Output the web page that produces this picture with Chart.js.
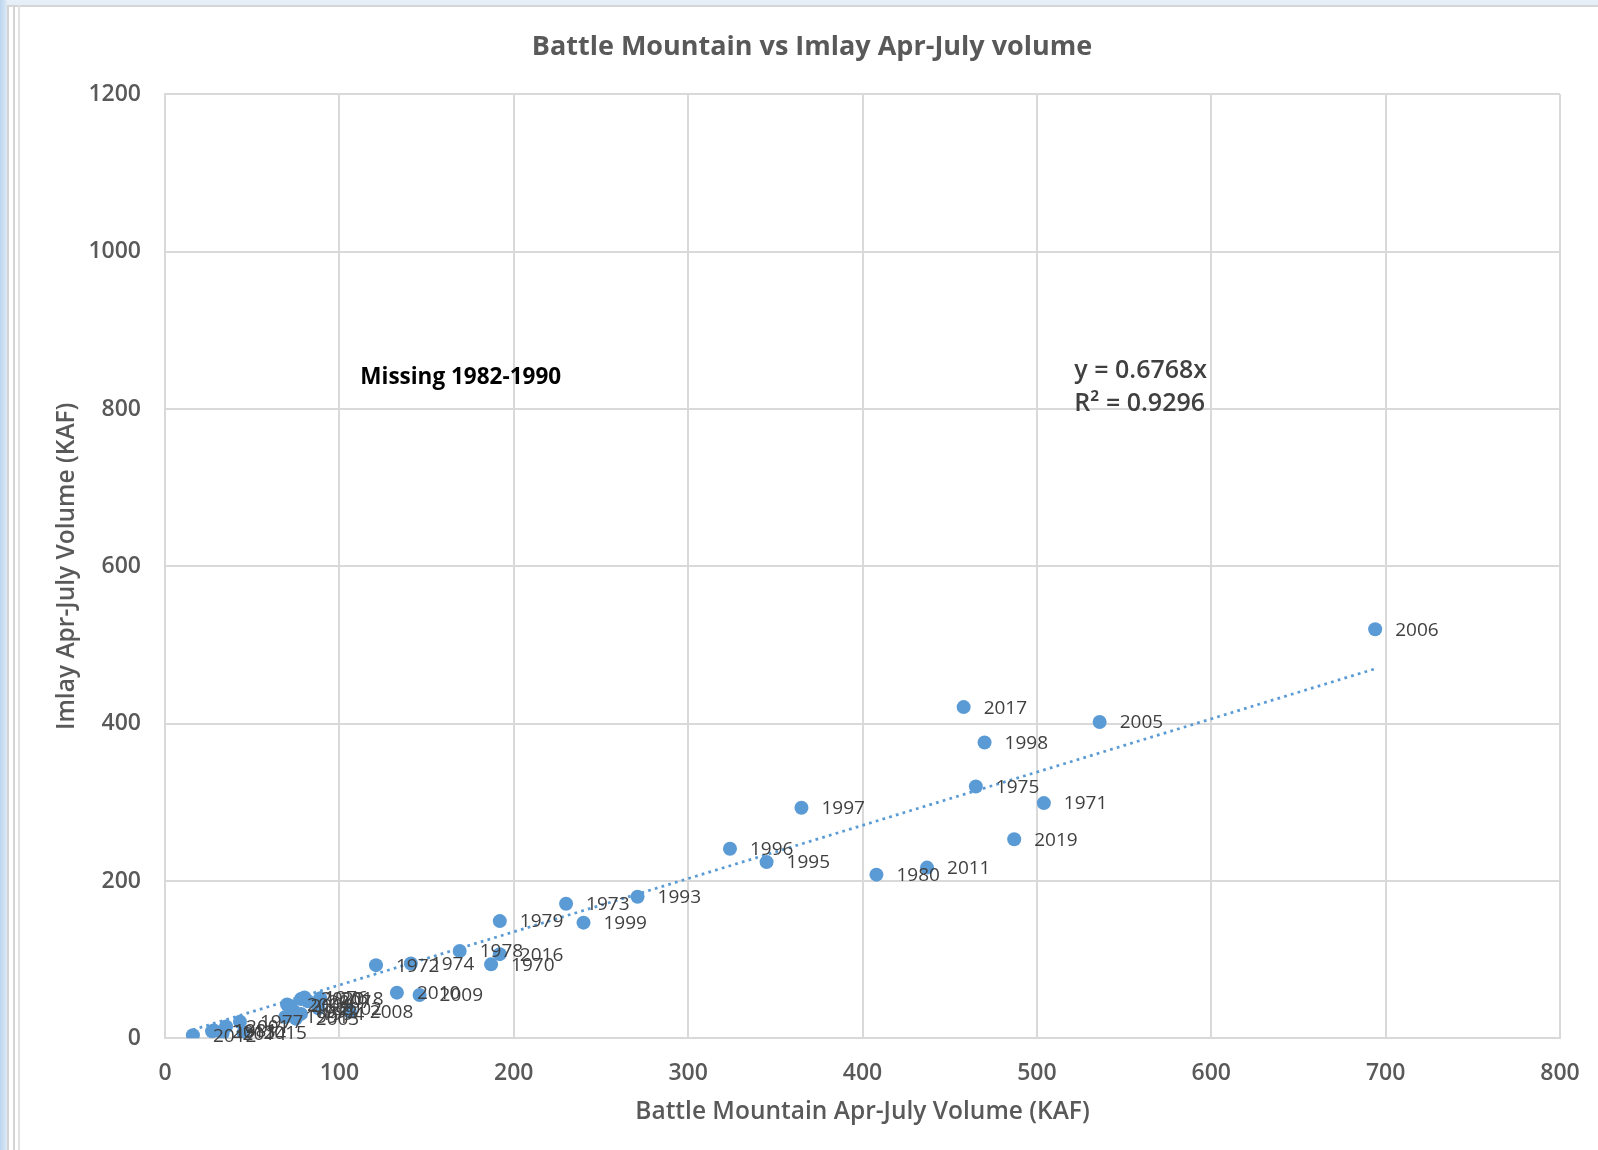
<!DOCTYPE html>
<html>
<head>
<meta charset="utf-8">
<title>Battle Mountain vs Imlay Apr-July volume</title>
<script src="https://cdn.jsdelivr.net/npm/chart.js@4.4.1/dist/chart.umd.min.js"></script>
<style>
  html, body { margin: 0; padding: 0; background: #ffffff; }
  body { width: 1598px; height: 1150px; position: relative; overflow: hidden; }
  .frame-top { position: absolute; left: 0; top: 0; width: 1598px; height: 5px; background: #e6eef7; }
  .frame-top-line { position: absolute; left: 7px; top: 5px; width: 1591px; height: 2px; background: #d6d6d6; }
  .frame-left { position: absolute; left: 0; top: 0; width: 7px; height: 1150px;
                background: linear-gradient(to right, #bcd5ee, #dde9f6); }
  .frame-line { position: absolute; top: 5px; width: 2px; height: 1145px; background: #d4d4d4; }
  #chart { position: absolute; left: 0; top: 0; }
</style>
</head>
<body>
<div class="frame-top"></div>
<div class="frame-left"></div>
<div class="frame-top-line"></div>
<div class="frame-line" style="left:7px"></div>
<div class="frame-line" style="left:13px"></div>
<div class="frame-line" style="left:18px; background:#e0e0e0"></div>
<canvas id="chart" width="1598" height="1150"></canvas>
<script>
// Water years (1982-1990 have no record)
const years = [
  1970, 1971, 1972, 1973, 1974, 1975, 1976, 1977, 1978, 1979, 1980, 1981,
  1991, 1992, 1993, 1994, 1995, 1996, 1997, 1998, 1999, 2000,
  2001, 2002, 2003, 2004, 2005, 2006, 2007, 2008, 2009, 2010,
  2011, 2012, 2013, 2014, 2015, 2016, 2017, 2018, 2019, 2020
];
// Battle Mountain Apr-July volume (KAF)
const battleMountain = [
  187, 504, 121, 230, 141, 465, 80, 43, 169, 192, 408, 28,
  69, 74, 271, 78, 345, 324, 365, 470, 240, 72,
  35, 88, 75, 70, 536, 694, 82, 106, 146, 133,
  437, 16, 27, 33, 45, 192, 458, 89, 487, 78
];
// Imlay Apr-July volume (KAF)
const imlay = [
  94, 299, 93, 171, 95, 320, 52, 21, 111, 149, 208, 10,
  27, 34, 180, 31, 224, 241, 293, 376, 147, 41,
  15, 38, 25, 43, 402, 520, 47, 34, 55, 58,
  217, 4, 9, 6, 7, 107, 421, 51, 253, 50
];
// Linear fit through the origin
const trendSlope = 0.6768;
const trendR2 = 0.9296;
const xTicks = [0, 100, 200, 300, 400, 500, 600, 700, 800];
const yTicks = [0, 200, 400, 600, 800, 1000, 1200];

const points = battleMountain.map((x, i) => ({ x: x, y: imlay[i] }));
const xMin = Math.min(...battleMountain);
const xMax = Math.max(...battleMountain);
const trend = [
  { x: xMin, y: trendSlope * xMin },
  { x: xMax, y: trendSlope * xMax }
];

const BLUE = '#5b9bd5';
const GRID = '#d9d9d9';
const AXIS_TEXT = '#595959';
const LABEL_TEXT = '#404040';
const FONT = "'Open Sans', 'DejaVu Sans', sans-serif";

// Year labels to the right of each point
const yearLabels = {
  id: 'yearLabels',
  afterDatasetsDraw(chart) {
    const ctx = chart.ctx;
    const meta = chart.getDatasetMeta(0);
    ctx.save();
    ctx.font = `500 19px ${FONT}`;
    ctx.fillStyle = LABEL_TEXT;
    ctx.textAlign = 'left';
    ctx.textBaseline = 'middle';
    meta.data.forEach((pt, i) => {
      ctx.fillText(String(years[i]), pt.x + 20, pt.y + 1);
    });
    ctx.restore();
  }
};

// Free text notes placed in data coordinates
const notes = {
  id: 'notes',
  afterDraw(chart) {
    const ctx = chart.ctx;
    const sx = chart.scales.x, sy = chart.scales.y;
    ctx.save();
    ctx.textAlign = 'left';
    ctx.textBaseline = 'middle';
    ctx.fillStyle = '#000000';
    ctx.font = `700 22.5px ${FONT}`;
    ctx.fillText('Missing 1982-1990', sx.getPixelForValue(112), sy.getPixelForValue(839.5));
    ctx.fillStyle = LABEL_TEXT;
    ctx.font = `600 25px ${FONT}`;
    ctx.fillText('y = ' + trendSlope.toFixed(4) + 'x', sx.getPixelForValue(521.5), sy.getPixelForValue(848.5));
    ctx.fillText('R\u00b2 = ' + trendR2.toFixed(4), sx.getPixelForValue(521.5), sy.getPixelForValue(806.5));
    ctx.restore();
  }
};

// Title sits a little right of the canvas centre
const titleShift = {
  id: 'titleShift',
  afterLayout(chart) {
    const tb = chart.titleBlock;
    if (tb) { tb.left += 44; tb.width -= 44; }
  }
};

const plainNumber = (v) => String(v);

new Chart(document.getElementById('chart'), {
  type: 'scatter',
  data: {
    datasets: [
      {
        label: 'Imlay vs Battle Mountain',
        data: points,
        backgroundColor: BLUE,
        borderColor: BLUE,
        borderWidth: 0,
        pointRadius: 7,
        pointHoverRadius: 7,
        order: 1
      },
      {
        type: 'line',
        label: 'Linear trend',
        data: trend,
        borderColor: BLUE,
        borderWidth: 2.75,
        borderDash: [2.75, 4.25],
        pointRadius: 0,
        fill: false,
        order: 0
      }
    ]
  },
  options: {
    responsive: false,
    animation: false,
    events: [],
    layout: { padding: { left: 20, right: 38, top: 7, bottom: 0 } },
    plugins: {
      legend: { display: false },
      tooltip: { enabled: false },
      title: {
        display: true,
        text: 'Battle Mountain vs Imlay Apr-July volume',
        color: AXIS_TEXT,
        font: { family: FONT, size: 27, weight: '700' },
        padding: { top: 23.8, bottom: 31.1 }
      }
    },
    scales: {
      x: {
        type: 'linear',
        min: 0,
        max: 800,
        afterBuildTicks(scale) { scale.ticks = xTicks.map(v => ({ value: v })); },
        afterFit(scale) {
          scale.height = 111.7;
          scale.paddingLeft = 0;
          scale.paddingRight = 0;
        },
        ticks: {
          color: AXIS_TEXT,
          font: { family: FONT, size: 23, weight: '600' },
          padding: 21,
          callback: plainNumber
        },
        grid: { color: GRID, lineWidth: 2, drawTicks: false },
        border: { color: GRID, width: 2 },
        title: {
          display: true,
          text: 'Battle Mountain Apr-July Volume (KAF)',
          color: AXIS_TEXT,
          font: { family: FONT, size: 24.5, weight: '600' },
          padding: { top: 0, bottom: 23.3 }
        }
      },
      y: {
        type: 'linear',
        min: 0,
        max: 1200,
        afterBuildTicks(scale) { scale.ticks = yTicks.map(v => ({ value: v })); },
        afterFit(scale) {
          scale.width = 145;
          scale.paddingTop = 0;
          scale.paddingBottom = 0;
        },
        ticks: {
          color: AXIS_TEXT,
          font: { family: FONT, size: 23, weight: '600' },
          padding: 24,
          callback: plainNumber
        },
        grid: { color: GRID, lineWidth: 2, drawTicks: false },
        border: { color: GRID, width: 2 },
        title: {
          display: true,
          text: 'Imlay Apr-July Volume (KAF)',
          color: AXIS_TEXT,
          font: { family: FONT, size: 24.5, weight: '600' },
          padding: { top: 32.3, bottom: 0 }
        }
      }
    }
  },
  plugins: [titleShift, yearLabels, notes]
});
</script>
</body>
</html>
